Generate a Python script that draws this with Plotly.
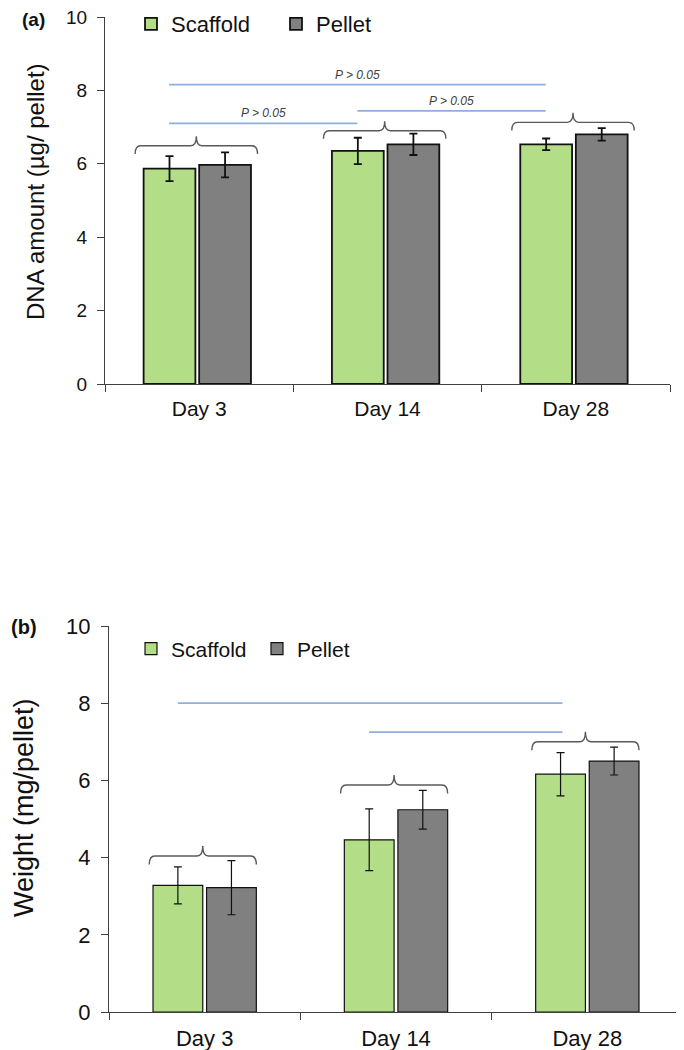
import plotly.graph_objects as go

# ── data ─────────────────────────────────────────────────────────────
days = ["Day 3", "Day 14", "Day 28"]

dna_scaffold = [5.87, 6.35, 6.53]
dna_scaffold_err = [0.34, 0.36, 0.16]
dna_pellet = [5.97, 6.53, 6.80]
dna_pellet_err = [0.34, 0.29, 0.17]

wt_scaffold = [3.28, 4.46, 6.16]
wt_scaffold_err = [0.48, 0.80, 0.56]
wt_pellet = [3.22, 5.24, 6.50]
wt_pellet_err = [0.70, 0.50, 0.36]

# bracket heights over each day group
dna_bracket_y = [6.49, 6.90, 7.13]
wt_bracket_y = [4.04, 5.88, 7.00]

# significance lines: from group, to group, height, label
dna_sig_from = [0, 0, 1]
dna_sig_to = [2, 1, 2]
dna_sig_y = [8.16, 7.10, 7.44]
dna_sig_text = ["P > 0.05", "P > 0.05", "P > 0.05"]

wt_sig_from = [0, 1]
wt_sig_to = [2, 2]
wt_sig_y = [8.00, 7.25]

GREEN = "#b3de87"
GREY = "#808080"
BLUE = "#8cb1de"
AXIS = "#404040"
FONT = "Liberation Sans, Arial, sans-serif"

# page body has an 8px margin, so the figure is a bit smaller than the window
OFF = 8
W, H = 684 - OFF, 1050 - OFF


def fx(px):
    return (px - OFF) / W


def fy(py):
    return 1 - (py - OFF) / H


fig = go.Figure()


def add_bars(scaf, scaf_err, pel, pel_err, xa, ya, legend, width, off_s, off_p, lw, ew):
    fig.add_trace(go.Bar(
        x=days, y=scaf, name="Scaffold", width=width, offset=off_s,
        marker=dict(color=GREEN, line=dict(color="#111", width=lw)),
        error_y=dict(type="data", array=scaf_err, color="#111", thickness=ew, width=4),
        xaxis=xa, yaxis=ya, legend=legend,
    ))
    fig.add_trace(go.Bar(
        x=days, y=pel, name="Pellet", width=width, offset=off_p,
        marker=dict(color=GREY, line=dict(color="#111", width=lw)),
        error_y=dict(type="data", array=pel_err, color="#111", thickness=ew, width=4),
        xaxis=xa, yaxis=ya, legend=legend,
    ))


add_bars(dna_scaffold, dna_scaffold_err, dna_pellet, dna_pellet_err,
         "x", "y", "legend", 0.275, -0.295, 0.0, 1.8, 1.8)
add_bars(wt_scaffold, wt_scaffold_err, wt_pellet, wt_pellet_err,
         "x2", "y2", "legend2", 0.26, -0.27, 0.01, 1.2, 1.2)


def bracket(i, y, left, right, xref, yref):
    """花括號樣式的組別括號"""
    x0, x1 = i + left, i + right
    xm = i + (left + right) / 2
    drop, rise, r = 0.22, 0.26, 0.03
    p = (f"M{x0},{y - drop} Q{x0},{y} {x0 + r},{y} L{xm - r},{y} "
         f"Q{xm},{y} {xm},{y + rise} Q{xm},{y} {xm + r},{y} "
         f"L{x1 - r},{y} Q{x1},{y} {x1},{y - drop}")
    fig.add_shape(type="path", path=p, xref=xref, yref=yref,
                  line=dict(color="#595959", width=1.4))


for i, y in enumerate(dna_bracket_y):
    bracket(i, y, -0.34, 0.31, "x", "y")
for i, y in enumerate(wt_bracket_y):
    bracket(i, y, -0.29, 0.27, "x2", "y2")

# significance lines (from scaffold bar centre to scaffold bar centre)
for a, b, y, t in zip(dna_sig_from, dna_sig_to, dna_sig_y, dna_sig_text):
    xa, xb = a - 0.16, b - 0.16
    fig.add_shape(type="line", x0=xa, x1=xb, y0=y, y1=y, xref="x", yref="y",
                  line=dict(color=BLUE, width=1.8))
    fig.add_annotation(x=(xa + xb) / 2, y=y, xref="x", yref="y", text=f"<i>{t}</i>",
                       showarrow=False, yanchor="bottom", yshift=1,
                       font=dict(size=12, color="#404040", family=FONT))
for a, b, y in zip(wt_sig_from, wt_sig_to, wt_sig_y):
    fig.add_shape(type="line", x0=a - 0.14, x1=b - 0.13, y0=y, y1=y, xref="x2", yref="y2",
                  line=dict(color=BLUE, width=1.8))

# panel labels + y titles
label_style = dict(xref="paper", yref="paper", showarrow=False,
                   xanchor="center", yanchor="middle")
fig.add_annotation(x=fx(33), y=fy(20), text="<b>(a)</b>",
                   font=dict(size=19, color="#111", family=FONT), **label_style)
fig.add_annotation(x=fx(24), y=fy(627), text="<b>(b)</b>",
                   font=dict(size=20, color="#111", family=FONT), **label_style)
fig.add_annotation(x=fx(35), y=fy(192), text="DNA amount (µg/ pellet)", textangle=-90,
                   font=dict(size=24, color="#111", family=FONT), **label_style)
fig.add_annotation(x=fx(24), y=fy(808), text="Weight (mg/pellet)", textangle=-90,
                   font=dict(size=27, color="#111", family=FONT), **label_style)

xcommon = dict(type="category", tickson="boundaries", ticks="outside", ticklen=7,
               tickcolor=AXIS, showline=True, linecolor=AXIS, linewidth=1.3,
               showgrid=False, range=[-0.5, 2.5], ticklabelstandoff=6, automargin=False)
ycommon = dict(range=[0, 10], dtick=2, ticks="outside", ticklen=7, tickcolor=AXIS,
               showline=True, linecolor=AXIS, linewidth=1.3, showgrid=False,
               zeroline=False, ticklabelstandoff=6, automargin=False,
               ticklabeloverflow="allow")

fig.update_layout(
    width=W, height=H,
    margin=dict(l=0, r=0, t=0, b=0, pad=0, autoexpand=False),
    paper_bgcolor="white", plot_bgcolor="white",
    font=dict(family=FONT, color="#111"),
    barmode="group",
    xaxis=dict(domain=[fx(105), fx(670)], anchor="y",
               tickfont=dict(size=21), **xcommon),
    yaxis=dict(domain=[fy(384), fy(17)], anchor="x",
               tickfont=dict(size=19), **ycommon),
    xaxis2=dict(domain=[fx(109), fx(683)], anchor="y2",
                tickfont=dict(size=22), **xcommon),
    yaxis2=dict(domain=[fy(1012), fy(626)], anchor="x2",
                tickfont=dict(size=22), **ycommon),
    legend=dict(orientation="h", x=fx(131), y=fy(24), xanchor="left", yanchor="middle",
                font=dict(size=22), entrywidth=100, bgcolor="rgba(0,0,0,0)"),
    legend2=dict(orientation="h", x=fx(131), y=fy(649), xanchor="left", yanchor="middle",
                 font=dict(size=21), entrywidth=81, bgcolor="rgba(0,0,0,0)"),
    showlegend=True,
)

fig.write_html("out.html")
